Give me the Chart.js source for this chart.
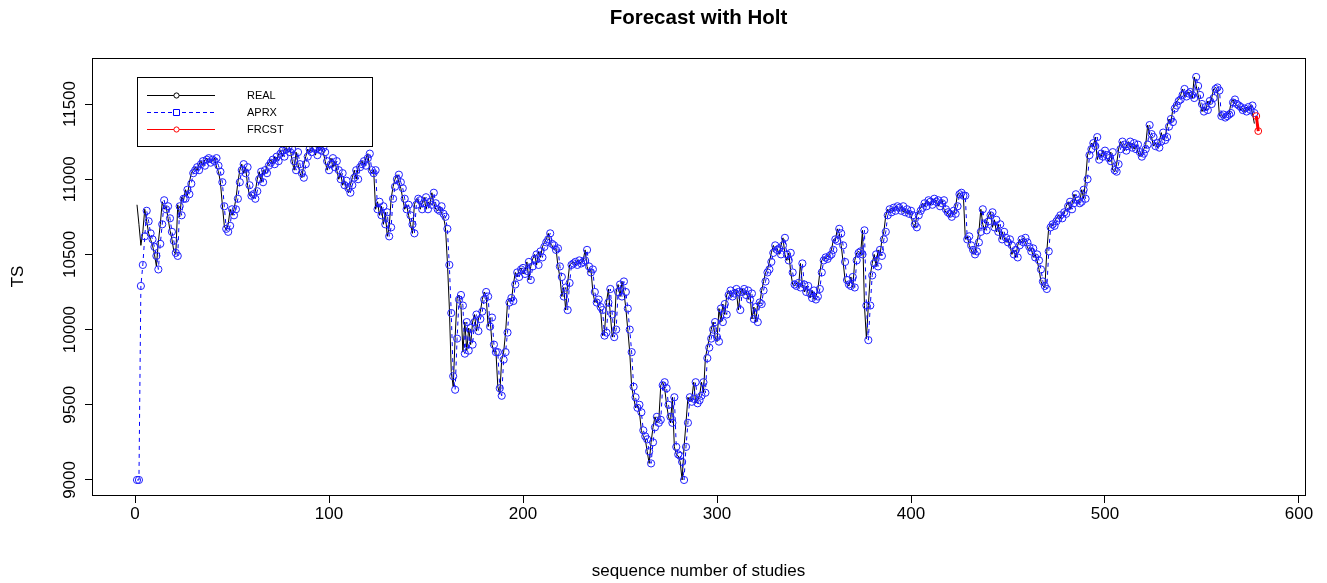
<!DOCTYPE html>
<html><head><meta charset="utf-8">
<script src="https://cdn.jsdelivr.net/npm/chart.js@4.4.1/dist/chart.umd.min.js"></script>
<style>html,body{margin:0;padding:0;background:#fff;}#wrap{width:1327px;height:583px;}</style>
</head><body><div id="wrap"><canvas id="c" width="1327" height="583"></canvas></div>
<script>
// observed series, indices 1..577
const REAL = [
10830,10700,10560,10650,10800,10720,10640,10600,10560,10500,
10420,10580,10700,10850,10800,10820,10740,10660,10600,10520,
10500,10830,10750,10880,10860,10930,10890,10980,11040,11060,
11080,11060,11100,11120,11090,11130,11140,11110,11130,11120,
11140,11080,11050,10980,10830,10690,10660,10700,10800,10760,
10800,10870,10980,11060,11100,11040,11080,10960,10890,10900,
10870,10920,11000,11050,10980,11060,11040,11090,11110,11130,
11100,11150,11120,11170,11190,11150,11200,11210,11180,11200,
11120,11060,11180,11100,11040,11010,11100,11150,11200,11180,
11210,11200,11160,11220,11190,11210,11180,11120,11060,11100,
11140,11080,11120,11060,11000,11040,10960,10990,10940,10910,
10960,11010,11060,11000,11080,11100,11120,11090,11140,11170,
11060,11040,11060,10800,10850,10760,10820,10700,10780,10620,
10680,10870,10950,11000,11030,10980,10940,10870,10800,10830,
10760,10700,10640,10830,10870,10860,10800,10840,10880,10800,
10850,10830,10910,10840,10800,10790,10820,10770,10750,10680,
10450,10150,9720,9620,9950,10210,10230,10160,9850,10050,
9860,10010,9900,10050,10100,9990,10070,10120,10200,10250,
10220,10020,10080,9900,9850,9860,9620,9570,9800,9850,
9980,10180,10210,10190,10300,10380,10350,10400,10410,10370,
10390,10450,10330,10420,10470,10500,10430,10520,10480,10550,
10580,10600,10640,10570,10560,10530,10540,10420,10350,10220,
10280,10130,10310,10430,10440,10450,10430,10460,10440,10450,
10460,10530,10420,10380,10400,10250,10180,10200,10150,10130,
9960,9980,10180,10270,10100,9950,10000,10250,10300,10220,
10320,10250,10140,10000,9850,9620,9550,9480,9500,9450,
9330,9290,9270,9190,9110,9250,9350,9420,9380,9400,
9630,9650,9610,9500,9420,9380,9550,9220,9170,9160,
9120,9000,9220,9380,9550,9520,9540,9650,9510,9530,
9560,9650,9580,9810,9880,9940,10000,10050,9950,9920,
10140,10050,10170,10100,10230,10260,10220,10240,10270,10250,
10130,10250,10270,10230,10260,10200,10240,10070,10150,10050,
10180,10170,10260,10320,10380,10400,10450,10510,10560,10530,
10540,10500,10560,10610,10500,10460,10510,10380,10300,10290,
10310,10280,10440,10300,10250,10290,10240,10210,10260,10200,
10220,10270,10380,10460,10480,10470,10490,10500,10530,10600,
10590,10670,10640,10560,10450,10330,10300,10290,10350,10280,
10460,10510,10520,10500,10660,10160,9940,10160,10360,10440,
10500,10420,10530,10490,10600,10650,10760,10800,10780,10810,
10790,10820,10810,10790,10820,10780,10800,10770,10790,10760,
10700,10680,10760,10790,10810,10840,10820,10860,10850,10830,
10870,10850,10860,10820,10840,10860,10800,10780,10770,10750,
10790,10770,10820,10900,10910,10890,10890,10600,10620,10560,
10530,10500,10520,10580,10650,10800,10700,10660,10720,10760,
10780,10680,10730,10650,10700,10600,10650,10610,10580,10600,
10560,10500,10530,10480,10560,10600,10580,10610,10580,10550,
10520,10540,10480,10500,10460,10400,10320,10290,10280,10520,
10680,10700,10690,10720,10740,10760,10740,10780,10770,10820,
10850,10800,10840,10900,10860,10840,10850,10930,10870,11000,
11160,11200,11240,11220,11280,11130,11170,11150,11190,11160,
11140,11120,11180,11060,11050,11100,11200,11250,11230,11190,
11220,11250,11210,11240,11200,11230,11180,11150,11170,11200,
11230,11360,11300,11280,11220,11240,11210,11250,11310,11260,
11280,11350,11400,11380,11470,11490,11520,11530,11560,11600,
11550,11570,11580,11560,11540,11680,11620,11560,11500,11450,
11480,11460,11520,11500,11540,11600,11610,11590,11420,11430,
11410,11420,11430,11440,11510,11530,11500,11490,11480,11460,
11470,11450,11480,11460,11490,11440,11370
];

// Holt fitted values, indices 1..577
const APRX = [
9000,9000,10290,10430,10620,10790,10720,10640,10600,10550,
10490,10400,10570,10700,10860,10800,10820,10740,10650,10590,
10510,10490,10820,10760,10870,10870,10930,10900,10970,11040,
11060,11080,11060,11100,11120,11090,11130,11140,11110,11130,
11120,11140,11090,11050,10980,10820,10670,10650,10690,10800,
10760,10800,10870,10980,11060,11100,11040,11080,10960,10890,
10900,10870,10920,11000,11050,10980,11060,11040,11090,11110,
11130,11100,11150,11120,11170,11190,11150,11200,11210,11180,
11200,11120,11060,11180,11100,11040,11010,11100,11150,11200,
11180,11210,11200,11160,11220,11190,11210,11180,11120,11060,
11100,11140,11080,11120,11060,11000,11040,10960,10990,10940,
10910,10960,11010,11060,11000,11080,11100,11120,11090,11140,
11170,11060,11040,11060,10800,10850,10760,10820,10700,10780,
10620,10680,10870,10950,11000,11030,10980,10940,10870,10800,
10830,10760,10700,10640,10830,10870,10860,10800,10840,10880,
10800,10850,10830,10910,10840,10800,10790,10820,10770,10750,
10670,10430,10110,9690,9600,9940,10200,10230,10160,9840,
10050,9860,10010,9900,10050,10100,9990,10070,10120,10200,
10250,10220,10020,10080,9900,9850,9850,9610,9560,9800,
9850,9980,10180,10210,10190,10300,10380,10350,10400,10410,
10370,10390,10450,10330,10420,10470,10500,10430,10520,10480,
10550,10580,10600,10640,10570,10560,10530,10540,10420,10350,
10220,10280,10130,10310,10430,10440,10450,10430,10460,10440,
10450,10460,10530,10420,10380,10400,10250,10180,10200,10150,
10130,9960,9980,10180,10270,10100,9950,10000,10250,10300,
10220,10320,10250,10140,10000,9850,9620,9550,9480,9500,
9450,9330,9290,9270,9190,9110,9250,9350,9420,9380,
9400,9630,9650,9610,9500,9420,9380,9550,9220,9170,
9160,9120,9000,9220,9380,9550,9520,9540,9650,9510,
9530,9560,9650,9580,9810,9880,9940,10000,10050,9950,
9920,10140,10050,10170,10100,10230,10260,10220,10240,10270,
10250,10130,10250,10270,10230,10260,10200,10240,10070,10150,
10050,10180,10170,10260,10320,10380,10400,10450,10510,10560,
10530,10540,10500,10560,10610,10500,10460,10510,10380,10300,
10290,10310,10280,10440,10300,10250,10290,10240,10210,10260,
10200,10220,10270,10380,10460,10480,10470,10490,10500,10530,
10600,10590,10670,10640,10560,10450,10330,10300,10290,10350,
10280,10460,10510,10520,10500,10660,10160,9930,10160,10360,
10440,10500,10420,10530,10490,10600,10650,10760,10800,10780,
10810,10790,10820,10810,10790,10820,10780,10800,10770,10790,
10760,10700,10680,10760,10790,10810,10840,10820,10860,10850,
10830,10870,10850,10860,10820,10840,10860,10800,10780,10770,
10750,10790,10770,10820,10900,10910,10890,10890,10600,10620,
10560,10530,10500,10520,10580,10650,10800,10700,10660,10720,
10760,10780,10680,10730,10650,10700,10600,10650,10610,10580,
10600,10560,10500,10530,10480,10560,10600,10580,10610,10580,
10550,10520,10540,10480,10500,10460,10400,10320,10290,10270,
10520,10680,10700,10690,10720,10740,10760,10740,10780,10770,
10820,10850,10800,10840,10900,10860,10840,10850,10930,10870,
11000,11160,11200,11240,11220,11280,11130,11170,11150,11190,
11160,11140,11120,11180,11060,11050,11100,11200,11250,11230,
11190,11220,11250,11210,11240,11200,11230,11180,11150,11170,
11200,11230,11360,11300,11280,11220,11240,11210,11250,11310,
11260,11280,11350,11400,11380,11470,11490,11520,11530,11560,
11600,11550,11570,11580,11560,11540,11680,11620,11560,11500,
11450,11480,11460,11520,11500,11540,11600,11610,11590,11420,
11430,11410,11420,11430,11440,11510,11530,11500,11490,11480,
11460,11470,11450,11480,11460,11490,11440
];

// forecast horizon
const FRCST_X = [578, 579];
const FRCST = [11420, 11320];

const X_TICKS = [0, 100, 200, 300, 400, 500, 600];
const Y_TICKS = [9000, 9500, 10000, 10500, 11000, 11500];

const FONT = "'Liberation Sans', Arial, sans-serif";

const toPoints = (ys, x0) => ys.map((y, i) => ({ x: x0 + i, y }));

// plot frame drawn around the plotting region
const framePlugin = {
  id: 'frame',
  afterDatasetsDraw(chart) {
    const { ctx, chartArea: a } = chart;
    ctx.save();
    ctx.strokeStyle = '#000';
    ctx.lineWidth = 1;
    ctx.strokeRect(Math.round(a.left) + 0.5, Math.round(a.top) + 0.5,
      Math.round(a.right - a.left), Math.round(a.bottom - a.top));
    ctx.restore();
  }
};

// boxed legend in the upper-left corner of the plot
const boxLegend = {
  id: 'boxLegend',
  afterDraw(chart) {
    const { ctx } = chart;
    const sets = chart.data.datasets;
    const bx = 137.5, by = 77.5, bw = 235, bh = 69;
    ctx.save();
    ctx.strokeStyle = '#000';
    ctx.lineWidth = 1;
    ctx.fillStyle = '#fff';
    ctx.fillRect(bx, by, bw, bh);
    ctx.strokeRect(bx, by, bw, bh);
    ctx.font = '11px ' + FONT;
    ctx.textBaseline = 'middle';
    ctx.textAlign = 'left';
    sets.forEach((ds, i) => {
      const y = 95.5 + i * 17;
      ctx.strokeStyle = ds.borderColor;
      ctx.lineWidth = 1;
      ctx.setLineDash(ds.legendDash || []);
      ctx.beginPath();
      ctx.moveTo(147, y); ctx.lineTo(215, y);
      ctx.stroke();
      ctx.setLineDash([]);
      ctx.beginPath();
      if (ds.legendMarker === 'rect') {
        ctx.rect(173.5, y - 3, 6, 6);
      } else {
        ctx.arc(176.5, y, 2.6, 0, Math.PI * 2);
      }
      ctx.fillStyle = '#fff';
      ctx.fill();
      ctx.stroke();
      ctx.fillStyle = '#000';
      ctx.fillText(ds.label, 247, y);
    });
    ctx.restore();
  }
};

new Chart(document.getElementById('c'), {
  type: 'line',
  data: {
    datasets: [
      {
        label: 'REAL',
        data: toPoints(REAL, 1),
        borderColor: '#000000',
        borderWidth: 1,
        pointRadius: 0,
        tension: 0,
        order: 3,
        legendMarker: 'circle'
      },
      {
        label: 'APRX',
        data: toPoints(APRX, 1),
        borderColor: '#0000ff',
        borderWidth: 1,
        borderDash: [4, 4],
        pointStyle: 'circle',
        pointRadius: 3.6,
        pointBorderWidth: 1,
        pointBorderColor: '#1f1fff',
        pointBackgroundColor: 'rgba(0,0,0,0)',
        tension: 0,
        order: 2,
        legendDash: [4, 3],
        legendMarker: 'rect'
      },
      {
        label: 'FRCST',
        data: FRCST.map((y, i) => ({ x: FRCST_X[i], y })),
        borderColor: '#ff0000',
        borderWidth: 3,
        pointStyle: 'circle',
        pointRadius: 3.4,
        pointBorderWidth: 1,
        pointBorderColor: '#ff0000',
        pointBackgroundColor: 'rgba(0,0,0,0)',
        tension: 0,
        order: 1,
        legendMarker: 'circle'
      }
    ]
  },
  options: {
    responsive: false,
    animation: false,
    devicePixelRatio: 1,
    layout: { padding: { left: 0, right: 22, top: 0, bottom: 0 } },
    plugins: {
      legend: { display: false },
      tooltip: { enabled: false },
      title: {
        display: true,
        fullSize: false,
        text: 'Forecast with Holt',
        color: '#000',
        font: { family: FONT, size: 20.5, weight: 'bold' },
        padding: { top: 6, bottom: 27.4 }
      }
    },
    scales: {
      x: {
        type: 'linear',
        min: -22.2,
        max: 603.1,
        afterBuildTicks: (s) => { s.ticks = X_TICKS.map(v => ({ value: v })); },
        afterFit: (s) => { s.height = 88; },
        ticks: { color: '#000', font: { family: FONT, size: 17 }, padding: 1, maxRotation: 0, autoSkip: false },
        grid: { drawOnChartArea: false, drawTicks: true, tickLength: 8, color: '#000', lineWidth: 1 },
        border: { display: false },
        title: {
          display: true, text: 'sequence number of studies', color: '#000',
          font: { family: FONT, size: 17 }, padding: { top: 0, bottom: 1.8 }
        }
      },
      y: {
        type: 'linear',
        min: 8900,
        max: 11806,
        afterBuildTicks: (s) => { s.ticks = Y_TICKS.map(v => ({ value: v })); },
        afterFit: (s) => { s.width = 92; },
        ticks: {
          color: '#000', font: { family: FONT, size: 17 },
          callback: (v) => String(v),
          minRotation: 90, maxRotation: 90, crossAlign: 'center', padding: -8.6, autoSkip: false
        },
        grid: { drawOnChartArea: false, drawTicks: true, tickLength: 7, color: '#000', lineWidth: 1 },
        border: { display: false },
        title: {
          display: true, text: 'TS', color: '#000',
          font: { family: FONT, size: 17 }, padding: { top: 7.8, bottom: 0 }
        }
      }
    }
  },
  plugins: [framePlugin, boxLegend]
});
</script>
</body></html>
